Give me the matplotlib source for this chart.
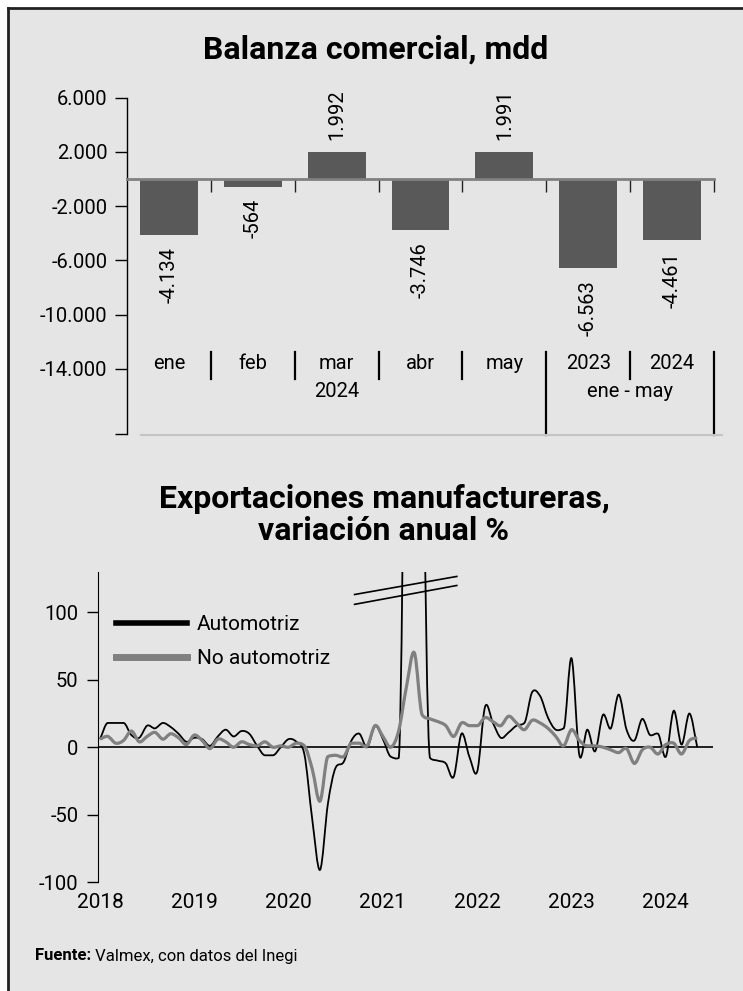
import numpy as np
import matplotlib
matplotlib.use("Agg")
import matplotlib.pyplot as plt
from matplotlib.patches import Rectangle, PathPatch
from matplotlib.path import Path
from matplotlib.lines import Line2D
import matplotlib.transforms as mtransforms

plt.rcParams['font.family'] = ['Roboto', 'DejaVu Sans']
plt.rcParams['axes.unicode_minus'] = False

# top chart data
cats = ['ene', 'feb', 'mar', 'abr', 'may', '2023', '2024']
balanza = [-4134, -564, 1992, -3746, 1991, -6563, -4461]
grupos = [('2024', 2), ('ene - may', 5.5)]
yticks_top = [6000, 2000, -2000, -6000, -10000, -14000]

# bottom chart data, monthly Jan 2018 - May 2024
years = ['2018', '2019', '2020', '2021', '2022', '2023', '2024']
automotriz = [6, 18, 18, 18, 9, 7, 16, 14, 18, 15, 10, 4,
              7, 6, 1, 8, 13, 8, 12, 10, 1, -6, -6, 0,
              6, 4, -5, -53, -91, -42, -15, -11, 5, 10, 0, 16,
              6, -7, -8, 400, 950, 300, -8, -10, -12, -22, 10, -7,
              -18, 30, 18, 7, 11, 16, 18, 41, 38, 22, 13, 14,
              66, -6, 13, -3, 24, 14, 39, 13, 5, 21, 9, 10,
              -7, 27, 2, 25, 0]
no_automotriz = [6, 8, 3, 5, 12, 4, 8, 11, 6, 10, 7, 2,
                 9, 5, -1, 6, 4, 0, 4, 2, 1, 4, 0, 1,
                 0, 3, 1, -16, -40, -7, -6, -7, 3, 3, 1, 16,
                 8, 0, 12, 45, 70, 24, 21, 19, 16, 8, 18, 16,
                 16, 22, 19, 16, 23, 18, 13, 20, 18, 14, 8, 1,
                 13, 5, 1, 1, 0, -2, -4, -1, -12, -2, 0, -5,
                 2, 3, -5, 5, 7]

BG = '#e5e5e5'
BAR = '#595959'
GRAY = '#808080'


def fmt(v):
    return f"{v:,.0f}".replace(',', '.')


def smooth(x, y):
    # smoothed line through the points, tangents limited so no big overshoot
    y = np.asarray(y, dtype=float)
    n = len(y)
    m = np.zeros(n)
    for k in range(n):
        a = max(k - 1, 0)
        b = min(k + 1, n - 1)
        m[k] = (y[b] - y[a]) / (b - a)
        if 0 < k < n - 1:
            lim = 3 * min(abs(y[k] - y[k - 1]), abs(y[k + 1] - y[k]))
            m[k] = np.clip(m[k], -lim, lim)
    verts = [(x[0], y[0])]
    codes = [Path.MOVETO]
    for k in range(n - 1):
        verts += [(x[k] + 1 / 3, y[k] + m[k] / 3),
                  (x[k + 1] - 1 / 3, y[k + 1] - m[k + 1] / 3),
                  (x[k + 1], y[k + 1])]
        codes += [Path.CURVE4] * 3
    return Path(verts, codes)


fig = plt.figure(figsize=(7.43, 9.91), dpi=100)
fig.patches.append(Rectangle((8 / 743, 0), 1, 1 - 8 / 991, transform=fig.transFigure,
                             facecolor=BG, edgecolor='none', zorder=-2))
fig.add_artist(Line2D([8 / 743, 1], [1 - 8 / 991, 1 - 8 / 991], color='#222222', lw=2))
fig.add_artist(Line2D([8 / 743, 8 / 743], [0, 1 - 8 / 991], color='#222222', lw=2))

# ---- top chart
ax1 = fig.add_axes([127 / 743, 1 - 434 / 991, 587 / 743, 336.3 / 991])
ax1.patch.set_visible(False)
xs = np.arange(len(cats))
ax1.bar(xs, balanza, width=0.69, color=BAR, zorder=2)
ax1.set_xlim(-0.5, 6.5)
ax1.set_ylim(-18800, 6000)
for s in ['top', 'right']:
    ax1.spines[s].set_visible(False)
ax1.spines['bottom'].set_position(('data', 0))
ax1.spines['bottom'].set_color(GRAY)
ax1.spines['bottom'].set_linewidth(2)
ax1.spines['bottom'].set_zorder(3)
ax1.spines['left'].set_linewidth(1)
ax1.set_xticks(np.arange(0.5, 7, 1))
ax1.set_xticklabels([])
ax1.tick_params(axis='x', length=9, width=1, color='#222222', direction='out')
ax1.set_yticks(yticks_top + [-18800])
ax1.set_yticklabels([fmt(v) for v in yticks_top] + [''])
ax1.tick_params(axis='y', length=9, width=1, pad=5, labelsize=14.5)

for x, v in zip(xs, balanza):
    if v > 0:
        ax1.text(x, v + 900, fmt(v), rotation=90, ha='center', va='bottom', fontsize=14.5)
    else:
        ax1.text(x, v - 900, fmt(v), rotation=90, ha='center', va='top', fontsize=14.5)

tr = mtransforms.blended_transform_factory(ax1.transData, ax1.transAxes)
for x, c in zip(xs, cats):
    ax1.text(x, 0.21, c, transform=tr, ha='center', va='center', fontsize=14.5)
for g, x in grupos:
    ax1.text(x, 0.125, g, transform=tr, ha='center', va='center', fontsize=14.5)
for x in np.arange(0.5, 7, 1):
    y0 = -0.003 if x in (4.5, 6.5) else 0.165
    ax1.plot([x, x], [0.245, y0], transform=tr, color='black', lw=1.6, clip_on=False)
ax1.plot([-0.33, 6.6], [-0.004, -0.004], transform=tr, color='#c4c4c4', lw=1.5, clip_on=False)

fig.text(376 / 743, 1 - 50 / 991, 'Balanza comercial, mdd', ha='center', va='center',
         fontsize=23, fontweight='bold')

# ---- bottom chart
ax2 = fig.add_axes([98 / 743, 1 - 882 / 991, 615 / 743, 310 / 991])
ax2.patch.set_visible(False)
idx = np.arange(len(automotriz))
ax2.add_patch(PathPatch(smooth(idx, automotriz), facecolor='none', edgecolor='black', lw=1.3, zorder=3))
ax2.add_patch(PathPatch(smooth(idx, no_automotriz), facecolor='none', edgecolor=GRAY, lw=2.3, zorder=4))
ax2.axhline(0, color='black', lw=1.2, zorder=2)
ax2.set_xlim(-0.25, 78)
ax2.set_ylim(-100, 130)
for s in ['top', 'right', 'bottom']:
    ax2.spines[s].set_visible(False)
ax2.set_yticks([100, 50, 0, -50, -100])
ax2.tick_params(axis='y', length=8, width=1, pad=6, labelsize=14.5)
ax2.set_xticks(np.arange(0, 73, 12))
ax2.set_xticklabels(years)
ax2.tick_params(axis='x', length=0, pad=8, labelsize=15)

# break marks over the clipped spike
ax2.plot([32.4, 45.4], [113.3, 126.7], color='black', lw=1.2, zorder=5)
ax2.plot([32.4, 45.4], [106, 120], color='black', lw=1.2, zorder=5)

handles = [Line2D([], [], color='black', lw=4), Line2D([], [], color=GRAY, lw=5)]
ax2.legend(handles, ['Automotriz', 'No automotriz'], loc='upper left',
           bbox_to_anchor=(0.03, 0.86), frameon=False, fontsize=15,
           handlelength=3.4, handletextpad=0.45, labelspacing=0.7,
           borderpad=0, borderaxespad=0)

fig.text(384 / 743, 1 - 515 / 991, 'Exportaciones manufactureras,\nvariación anual %',
         ha='center', va='center', fontsize=23, fontweight='bold', linespacing=1.1)

t1 = fig.text(35 / 743, 1 - 956 / 991, 'Fuente:', fontsize=12, fontweight='bold',
              ha='left', va='center')
ax2.annotate(' Valmex, con datos del Inegi', xy=(1, 0), xycoords=t1, fontsize=12,
             ha='left', va='bottom', annotation_clip=False)

fig.savefig('out.png', dpi=100, facecolor='white')
